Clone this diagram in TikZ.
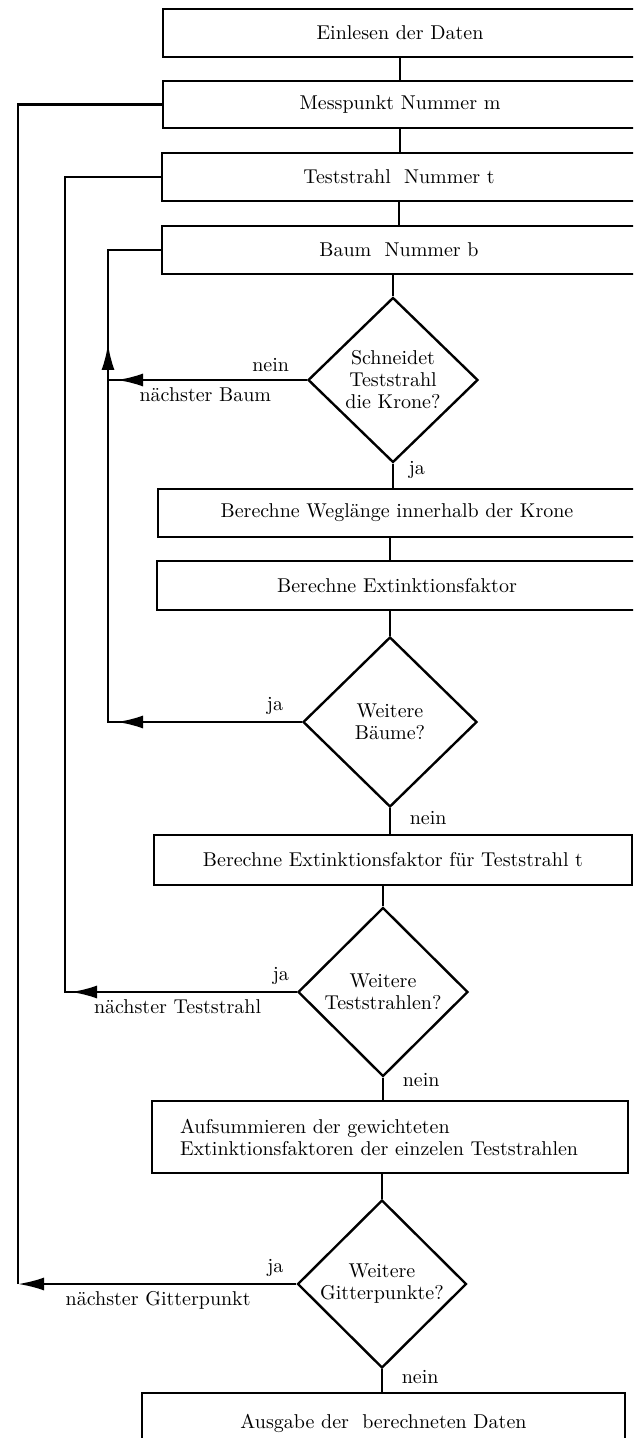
\documentclass[tikz,border=0pt]{standalone}
\usetikzlibrary{arrows.meta,shapes.geometric,calc}
\begin{document}
\begin{tikzpicture}[x=0.5pt, y=-0.5pt, line width=1.2pt,
    font=\fontsize{10pt}{11pt}\selectfont,
    box/.style={draw, rectangle, minimum height=24pt, inner sep=3pt},
    test/.style={draw, diamond, align=center, inner sep=0pt},
    flow/.style={-{Latex[length=13pt, width=6.5pt]}}]
        \useasboundingbox (0,0) rectangle (633,1438);
        \clip (0,0) rectangle (633,1438);

        \node[box, minimum width=237pt] (lesen) at (400,33) {Einlesen der Daten};
        \node[box, minimum width=237pt, minimum height=23.5pt] (punkt) at (400,104.5) {Messpunkt Nummer m};
        \node[box, minimum width=237pt] (strahl) at (399,177) {Teststrahl\ \ Nummer t};
        \node[box, minimum width=237pt] (baum) at (399,250) {Baum\ \ Nummer b};
        \node[test, minimum width=85pt, minimum height=82.5pt] (schnitt) at (393,380) {Schneidet\\Teststrahl\\die Krone?};
        \node[box, minimum width=239pt] (weg) at (397,513) {Berechne Weglänge innerhalb der Krone};
        \node[box, minimum width=240pt, minimum height=24.5pt] (ext) at (397,585.5) {Berechne Extinktionsfaktor};
        \node[test, minimum width=87pt, minimum height=85pt] (baeume) at (390,722) {Weitere\\Bäume?};
        \node[box, minimum width=239pt, minimum height=25pt] (extt) at (393,860) {Berechne Extinktionsfaktor für Teststrahl t};
        \node[test, minimum width=85pt, minimum height=84.5pt] (strahlen) at (383,992) {Weitere\\Teststrahlen?};
        \node[box, minimum width=238pt, minimum height=36pt, text width=210pt, align=left] (summe) at (390,1137) {Aufsummieren der gewichteten\\Extinktionsfaktoren der einzelen Teststrahlen};
        \node[test, minimum width=84.5pt, minimum height=84pt] (gitter) at (382,1284) {Weitere\\Gitterpunkte?};
        \node[box, minimum width=241.5pt, minimum height=30pt] (ausgabe) at (383.5,1423) {Ausgabe der\ \ berechneten Daten};

        % main column
        \draw (lesen.south) -- (punkt.north);
        \draw (punkt.south) -- (punkt.south |- strahl.north);
        \draw (strahl.south) -- (baum.north);
        \draw (schnitt.north |- baum.south) -- (schnitt.north);
        \draw (schnitt.south) -- node[pos=0.27, right=4pt] {ja} (schnitt.south |- weg.north);
        \draw (baeume.north |- weg.south) -- (baeume.north |- ext.north);
        \draw (baeume.north |- ext.south) -- (baeume.north);
        \draw (baeume.south) -- node[pos=0.4, right=6pt] {nein} (baeume.south |- extt.north);
        \draw (strahlen.north |- extt.south) -- (strahlen.north);
        \draw (strahlen.south) -- node[pos=0.1, right=6pt] {nein} (strahlen.south |- summe.north);
        \draw (gitter.north |- summe.south) -- (gitter.north);
        \draw (gitter.south) -- node[pos=0.36, right=6pt] {nein} (gitter.south |- ausgabe.north);

        % loops back
        \coordinate (xb) at (108,0);
        \coordinate (xt) at (65,0);
        \coordinate (xm) at (18,0);

        \draw (schnitt.west) -- node[pos=0.05, above left] {nein} node[pos=0.14, below left] {nächster Baum} (schnitt.west -| xb);
        \draw (baeume.west) -- node[pos=0.056, above left] {ja} (baeume.west -| xb) |- (baum.west);
        \draw[flow] (schnitt.west) -- ($(schnitt.west -| xb)+(9,0)$);
        \draw[flow] (baeume.west) -- ($(baeume.west -| xb)+(9,0)$);
        \draw[flow] (schnitt.west -| xb) -- ++(0,-36);

        \draw (strahlen.west) -- node[pos=0, above left] {ja} node[pos=0.12, below left] {nächster Teststrahl} (strahlen.west -| xt) |- (strahl.west);
        \draw[flow] (strahlen.west) -- ($(strahlen.west -| xt)+(6,0)$);

        \draw[flow] (gitter.west) -- node[pos=0.018, above left] {ja} node[pos=0.136, below left] {nächster Gitterpunkt} (gitter.west -| xm);
        \draw (gitter.west -| xm) |- (punkt.west);
\end{tikzpicture}
\end{document}
